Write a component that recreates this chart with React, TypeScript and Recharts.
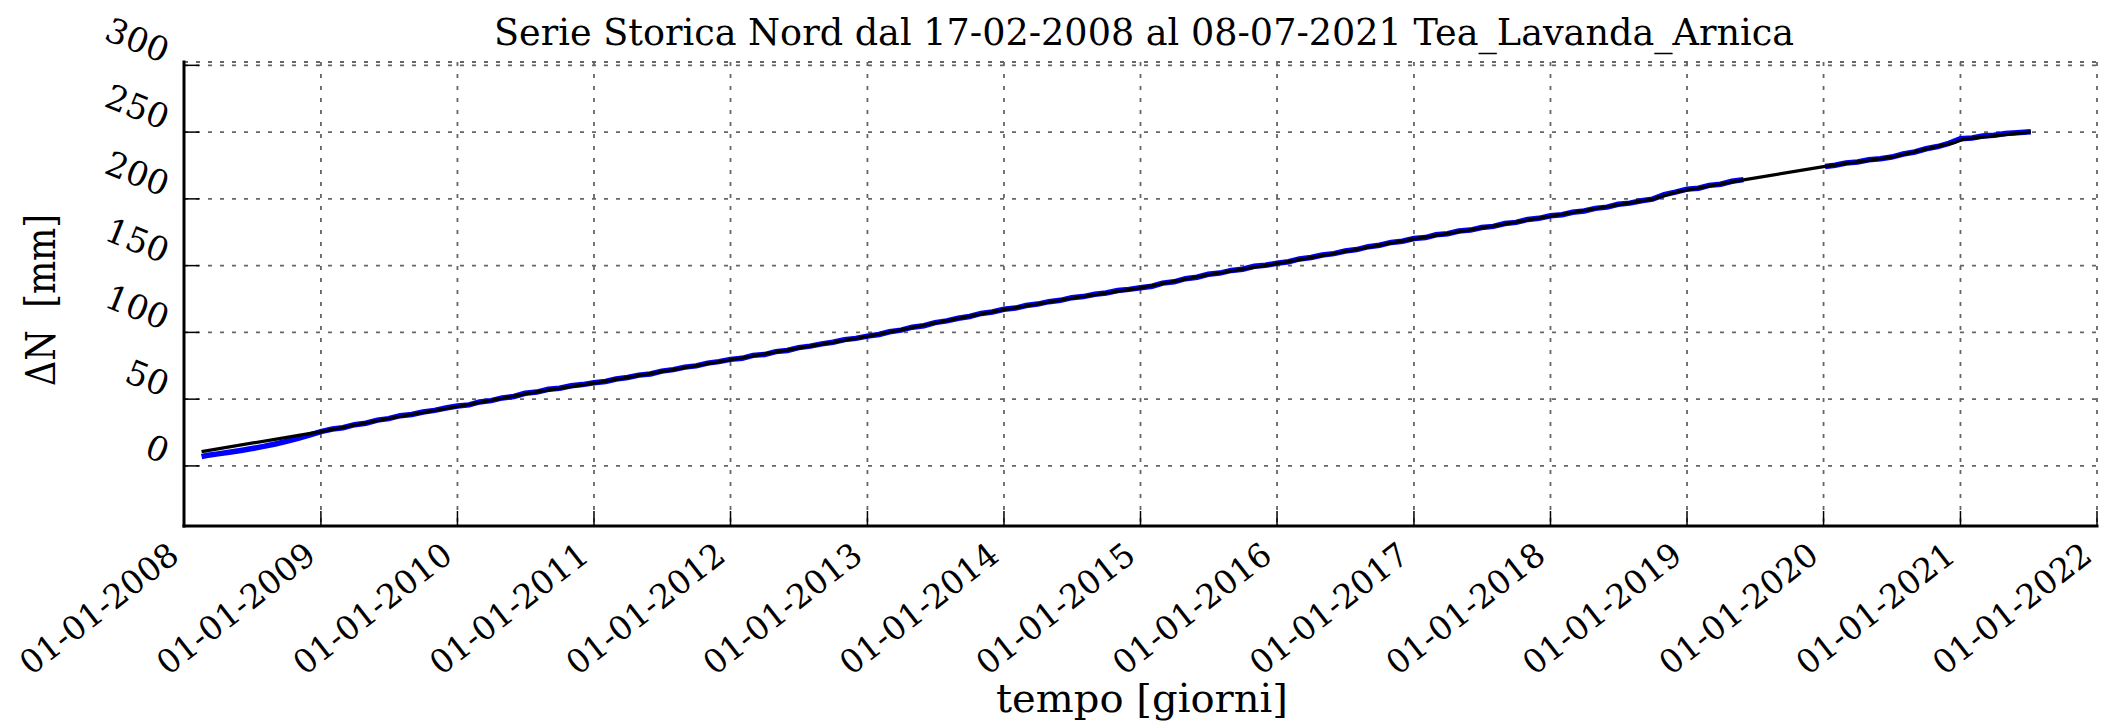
import React from 'react';
import { LineChart, Line, XAxis, YAxis, CartesianGrid } from 'recharts';

const FONT = "'DejaVu Serif', serif";

const TITLE = 'Serie Storica Nord dal 17-02-2008 al 08-07-2021 Tea_Lavanda_Arnica';
const X_LABEL = 'tempo [giorni]';
const Y_LABEL = '\u0394N\u00A0 [mm]';

const YEAR_TICKS = [2008, 2009, 2010, 2011, 2012, 2013, 2014, 2015, 2016, 2017, 2018, 2019, 2020, 2021, 2022];
const Y_TICKS = [0, 50, 100, 150, 200, 250, 300];
const Y_MIN = -45;
const Y_MAX = 302.5;

// Raw measurements (blue)
const BLUE_DATES = [
  '2008-02-17', '2008-03-01', '2008-04-01', '2008-05-01', '2008-06-01', '2008-07-01', '2008-08-01', '2008-09-01', '2008-10-01', '2008-11-01', '2008-12-01',
  '2009-01-01', '2009-02-01', '2009-03-01', '2009-04-01', '2009-05-01', '2009-06-01', '2009-07-01', '2009-08-01', '2009-09-01', '2009-10-01', '2009-11-01', '2009-12-01',
  '2010-01-01', '2010-02-01', '2010-03-01', '2010-04-01', '2010-05-01', '2010-06-01', '2010-07-01', '2010-08-01', '2010-09-01', '2010-10-01', '2010-11-01', '2010-12-01',
  '2011-01-01', '2011-02-01', '2011-03-01', '2011-04-01', '2011-05-01', '2011-06-01', '2011-07-01', '2011-08-01', '2011-09-01', '2011-10-01', '2011-11-01', '2011-12-01',
  '2012-01-01', '2012-02-01', '2012-03-01', '2012-04-01', '2012-05-01', '2012-06-01', '2012-07-01', '2012-08-01', '2012-09-01', '2012-10-01', '2012-11-01', '2012-12-01',
  '2013-01-01', '2013-02-01', '2013-03-01', '2013-04-01', '2013-05-01', '2013-06-01', '2013-07-01', '2013-08-01', '2013-09-01', '2013-10-01', '2013-11-01', '2013-12-01',
  '2014-01-01', '2014-02-01', '2014-03-01', '2014-04-01', '2014-05-01', '2014-06-01', '2014-07-01', '2014-08-01', '2014-09-01', '2014-10-01', '2014-11-01', '2014-12-01',
  '2015-01-01', '2015-02-01', '2015-03-01', '2015-04-01', '2015-05-01', '2015-06-01', '2015-07-01', '2015-08-01', '2015-09-01', '2015-10-01', '2015-11-01', '2015-12-01',
  '2016-01-01', '2016-02-01', '2016-03-01', '2016-04-01', '2016-05-01', '2016-06-01', '2016-07-01', '2016-08-01', '2016-09-01', '2016-10-01', '2016-11-01', '2016-12-01',
  '2017-01-01', '2017-02-01', '2017-03-01', '2017-04-01', '2017-05-01', '2017-06-01', '2017-07-01', '2017-08-01', '2017-09-01', '2017-10-01', '2017-11-01', '2017-12-01',
  '2018-01-01', '2018-02-01', '2018-03-01', '2018-04-01', '2018-05-01', '2018-06-01', '2018-07-01', '2018-08-01', '2018-09-01', '2018-10-01', '2018-11-01', '2018-12-01',
  '2019-01-01', '2019-02-01', '2019-03-01', '2019-04-01', '2019-05-01', '2019-06-01', '2019-09-01',
  '2020-01-05', '2020-02-01', '2020-03-01', '2020-04-01', '2020-05-01', '2020-06-01', '2020-07-01', '2020-08-01', '2020-09-01', '2020-10-01', '2020-11-01', '2020-12-01',
  '2021-01-01', '2021-02-01', '2021-03-01', '2021-04-01', '2021-05-01', '2021-06-01', '2021-07-08',
];
const BLUE_VALUES: (number | null)[] = [
  7.0, 7.8, 9.0, 10.2, 11.6, 13.0, 14.6, 16.4, 18.4, 20.6, 23.0,
  25.7, 27.6, 28.6, 30.9, 32.0, 34.3, 35.4, 37.6, 38.5, 40.4, 41.6, 43.4,
  44.8, 45.7, 47.9, 48.9, 50.9, 52.0, 54.4, 55.3, 57.4, 58.2, 60.0, 60.9,
  62.3, 63.2, 65.1, 66.2, 68.0, 68.9, 71.0, 72.1, 74.0, 74.9, 77.0, 78.1,
  79.8, 80.6, 82.8, 83.4, 85.6, 86.5, 88.6, 89.7, 91.4, 92.6, 94.6, 95.5,
  97.2, 98.4, 100.5, 101.7, 103.9, 105.0, 107.3, 108.6, 110.6, 111.9, 114.2, 115.3,
  117.3, 118.2, 120.1, 121.2, 123.0, 124.0, 126.0, 126.8, 128.6, 129.5, 131.4, 132.2,
  133.5, 134.6, 136.9, 137.9, 140.2, 141.3, 143.5, 144.4, 146.4, 147.3, 149.5, 150.3,
  151.8, 152.9, 155.0, 156.1, 158.0, 159.0, 160.9, 162.0, 164.2, 165.3, 167.4, 168.3,
  170.3, 171.0, 173.1, 173.9, 175.9, 176.6, 178.5, 179.4, 181.5, 182.4, 184.6, 185.4,
  187.3, 188.1, 190.0, 190.9, 192.9, 193.8, 195.9, 196.8, 198.6, 199.8, 203.2, 205.0,
  207.3, 208.0, 210.1, 211.0, 213.2, 214.4, null,
  224.3, 225.2, 226.9, 227.6, 229.3, 230.0, 231.3, 233.6, 235.1, 237.5, 239.2, 241.6,
  245.0, 245.6, 247.0, 247.6, 248.9, 249.5, 250.3,
];

// Fitted / smoothed series (black)
const BLACK_DATES = [
  '2008-02-17', '2009-01-01', '2009-07-01', '2010-01-01', '2010-08-01', '2011-01-01', '2011-07-01', '2012-01-01',
  '2012-07-01', '2013-01-01', '2013-07-01', '2014-01-01', '2014-07-01', '2015-01-01', '2015-07-01', '2016-01-01',
  '2016-07-01', '2017-01-01', '2017-07-01', '2018-01-01', '2018-07-01', '2018-10-01', '2018-12-01', '2019-06-01',
  '2020-01-01', '2020-07-01', '2020-11-01', '2020-12-15', '2021-01-10', '2021-07-08',
];
const BLACK_VALUES = [
  10.7, 25.7, 35.5, 44.5, 55.5, 62.0, 70.6, 79.5,
  88.2, 96.9, 107.0, 117.0, 125.6, 133.3, 143.2, 151.5,
  160.6, 170.0, 178.2, 187.0, 195.6, 199.8, 205.0, 214.2,
  224.2, 231.2, 239.3, 242.0, 244.8, 250.2,
];

const toTime = (s: string) => {
  const [y, m, d] = s.split('-').map(Number);
  return Date.UTC(y, m - 1, d);
};

const blueData = BLUE_DATES.map((d, i) => ({ t: toTime(d), v: BLUE_VALUES[i] }));
const blackData = BLACK_DATES.map((d, i) => ({ t: toTime(d), v: BLACK_VALUES[i] }));
const xTicks = YEAR_TICKS.map((y) => Date.UTC(y, 0, 1));
const X_DOMAIN = [xTicks[0], xTicks[xTicks.length - 1]];

const W = 2104;
const H = 723;
const TICK_LEN = 15;

const BottomTick = (props: any) => {
  const { x, y, payload } = props;
  const year = new Date(payload.value).getUTCFullYear();
  const ax = x - 3;
  const ay = y + 33;
  return (
    <g>
      <line x1={x} y1={y} x2={x} y2={y - TICK_LEN} stroke="#000" strokeWidth={1.5} />
      <text
        x={ax}
        y={ay}
        textAnchor="end"
        fontFamily={FONT}
        fontSize={33}
        fill="#000"
        transform={`rotate(-38, ${ax}, ${ay})`}
      >
        {`01-01-${year}`}
      </text>
    </g>
  );
};

const TopTick = (props: any) => {
  const { x, y } = props;
  return <line x1={x} y1={y} x2={x} y2={y + TICK_LEN} stroke="#000" strokeWidth={1.5} />;
};

const LeftTick = (props: any) => {
  const { x, y, payload } = props;
  const ax = x - 21;
  const ay = y - 2;
  return (
    <g>
      <line x1={x} y1={y} x2={x + TICK_LEN} y2={y} stroke="#000" strokeWidth={1.5} />
      <text
        x={ax}
        y={ay}
        textAnchor="end"
        fontFamily={FONT}
        fontSize={34}
        fill="#000"
        transform={`rotate(22, ${ax}, ${ay})`}
      >
        {String(payload.value)}
      </text>
    </g>
  );
};

const RightTick = (props: any) => {
  const { x, y } = props;
  return <line x1={x} y1={y} x2={x - TICK_LEN} y2={y} stroke="#000" strokeWidth={1.5} />;
};

const frameLine = { stroke: '#000', strokeWidth: 3, strokeLinecap: 'square' as const };

export default function App() {
  return (
    <div style={{ position: 'absolute', left: 0, top: 0, width: W, height: H, background: '#fff' }}>
      <LineChart width={W} height={H} margin={{ top: 62, right: 7, left: 0, bottom: 0 }}>
        <CartesianGrid stroke="#666" strokeWidth={1.8} strokeDasharray="4 8" />
        <XAxis
          dataKey="t"
          type="number"
          domain={X_DOMAIN}
          ticks={xTicks}
          allowDataOverflow
          height={197}
          tickSize={0}
          tickMargin={0}
          tickLine={false}
          axisLine={frameLine}
          tick={<BottomTick />}
          interval={0}
        />
        <XAxis
          xAxisId="top"
          orientation="top"
          dataKey="t"
          type="number"
          domain={X_DOMAIN}
          ticks={xTicks}
          allowDataOverflow
          height={0}
          tickSize={0}
          tickMargin={0}
          tickLine={false}
          axisLine={frameLine}
          tick={<TopTick />}
          interval={0}
        />
        <YAxis
          type="number"
          domain={[Y_MIN, Y_MAX]}
          ticks={Y_TICKS}
          allowDataOverflow
          width={184}
          tickSize={0}
          tickMargin={0}
          tickLine={false}
          axisLine={frameLine}
          tick={<LeftTick />}
          interval={0}
        />
        <YAxis
          yAxisId="right"
          orientation="right"
          type="number"
          domain={[Y_MIN, Y_MAX]}
          ticks={Y_TICKS}
          allowDataOverflow
          width={0}
          tickSize={0}
          tickMargin={0}
          tickLine={false}
          axisLine={frameLine}
          tick={<RightTick />}
          interval={0}
        />
        <Line
          data={blueData}
          dataKey="v"
          stroke="#0000ff"
          strokeWidth={5.5}
          dot={false}
          type="linear"
          connectNulls={false}
          isAnimationActive={false}
        />
        <Line
          data={blackData}
          dataKey="v"
          stroke="#000000"
          strokeWidth={3.2}
          dot={false}
          type="linear"
          isAnimationActive={false}
        />
      </LineChart>
      <svg
        width={W}
        height={H}
        style={{ position: 'absolute', left: 0, top: 0, pointerEvents: 'none' }}
      >
        <text
          x={1144}
          y={45}
          textAnchor="middle"
          fontFamily={FONT}
          fontSize={36.5}
          fill="#000"
          textLength={1300}
          lengthAdjust="spacingAndGlyphs"
        >
          {TITLE}
        </text>
        <text
          x={1142}
          y={712}
          textAnchor="middle"
          fontFamily={FONT}
          fontSize={40}
          fill="#000"
          textLength={292}
          lengthAdjust="spacingAndGlyphs"
        >
          {X_LABEL}
        </text>
        <text
          x={55}
          y={300}
          textAnchor="middle"
          fontFamily={FONT}
          fontSize={41}
          fill="#000"
          textLength={172}
          lengthAdjust="spacingAndGlyphs"
          transform="rotate(-90, 55, 300)"
        >
          {Y_LABEL}
        </text>
      </svg>
    </div>
  );
}
